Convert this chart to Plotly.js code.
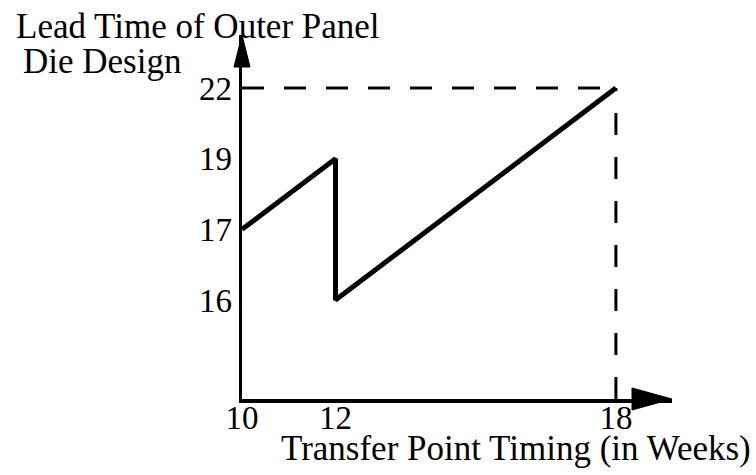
<!DOCTYPE html>
<html><head><meta charset="utf-8">
<script src="https://cdn.plot.ly/plotly-3.0.1.min.js"></script>
<style>html,body{margin:0;padding:0;background:#fff}</style>
</head><body><div id="chart" style="width:756px;height:475px"></div>
<script>
// Data
const weeks = [10, 12, 12, 18];
const leadTime = [17, 19, 16, 22];
const xTicks = [10, 12, 18];
const yTicks = [16, 17, 19, 22];
const refWeek = 18;
const refLead = 22;
const xTitle = 'Transfer Point Timing (in Weeks)';
const yTitleLine1 = 'Lead Time of Outer Panel';
const yTitleLine2 = 'Die Design';

const FONT = 'Liberation Serif, Times New Roman, serif';
const yCats = yTicks.map(String);
const yRange = [-1.40, 3.75];
const xRange = [10, 19.2];

const trace = {
  x: weeks,
  y: leadTime.map(String),
  type: 'scatter',
  mode: 'lines',
  line: {color: '#000', width: 5},
  hoverinfo: 'skip'
};

const layout = {
  width: 756, height: 475,
  margin: {l: 242, r: 84, t: 35, b: 76},
  paper_bgcolor: '#fff', plot_bgcolor: '#fff',
  showlegend: false,
  font: {family: FONT, color: '#000', size: 33},
  xaxis: {
    range: xRange, showgrid: false, zeroline: false,
    showline: true, linecolor: '#000', linewidth: 3.5,
    tickmode: 'array', tickvals: xTicks, ticktext: xTicks.map(String),
    ticks: '', ticklabelstandoff: -13,
    tickfont: {family: FONT, size: 33, color: '#000'}
  },
  yaxis: {
    type: 'category', categoryorder: 'array', categoryarray: yCats,
    range: yRange, showgrid: false, zeroline: false,
    showline: true, linecolor: '#000', linewidth: 3.5,
    ticks: '', tickfont: {family: FONT, size: 33, color: '#000'}
  },
  shapes: [
    {type: 'line', xref: 'x', yref: 'y', x0: xTicks[0], x1: refWeek,
     y0: yCats.indexOf(String(refLead)), y1: yCats.indexOf(String(refLead)),
     line: {color: '#000', width: 3, dash: '22px,20px'}, layer: 'above'},
    {type: 'line', xref: 'x', yref: 'y', x0: refWeek, x1: refWeek,
     y0: yRange[0], y1: yCats.indexOf(String(refLead)),
     line: {color: '#000', width: 3, dash: '22px,22px'}, layer: 'above'},
    // x-axis arrowhead
    {type: 'path', xref: 'paper', yref: 'paper', xsizemode: 'pixel', ysizemode: 'pixel',
     xanchor: 1, yanchor: 0, path: 'M-40,-11 L0,0 L-40,11 Z',
     fillcolor: '#000', line: {color: '#000', width: 1}, layer: 'above'},
    // y-axis arrowhead
    {type: 'path', xref: 'paper', yref: 'paper', xsizemode: 'pixel', ysizemode: 'pixel',
     xanchor: 0, yanchor: 1, path: 'M-8,-32 L0,0 L8,-32 Z',
     fillcolor: '#000', line: {color: '#000', width: 1}, layer: 'above'}
  ],
  annotations: [
    {text: xTitle, xref: 'paper', yref: 'paper', x: 1.188, y: -0.135,
     xanchor: 'right', yanchor: 'middle', showarrow: false,
     font: {family: FONT, size: 35, color: '#000'}},
    {text: yTitleLine1, xref: 'paper', yref: 'paper', x: -0.53, y: 1.022,
     xanchor: 'left', yanchor: 'middle', showarrow: false,
     font: {family: FONT, size: 35, color: '#000'}},
    {text: yTitleLine2, xref: 'paper', yref: 'paper', x: -0.514, y: 0.927,
     xanchor: 'left', yanchor: 'middle', showarrow: false,
     font: {family: FONT, size: 35, color: '#000'}}
  ]
};

Plotly.newPlot('chart', [trace], layout, {staticPlot: true, displayModeBar: false});
</script></body></html>
